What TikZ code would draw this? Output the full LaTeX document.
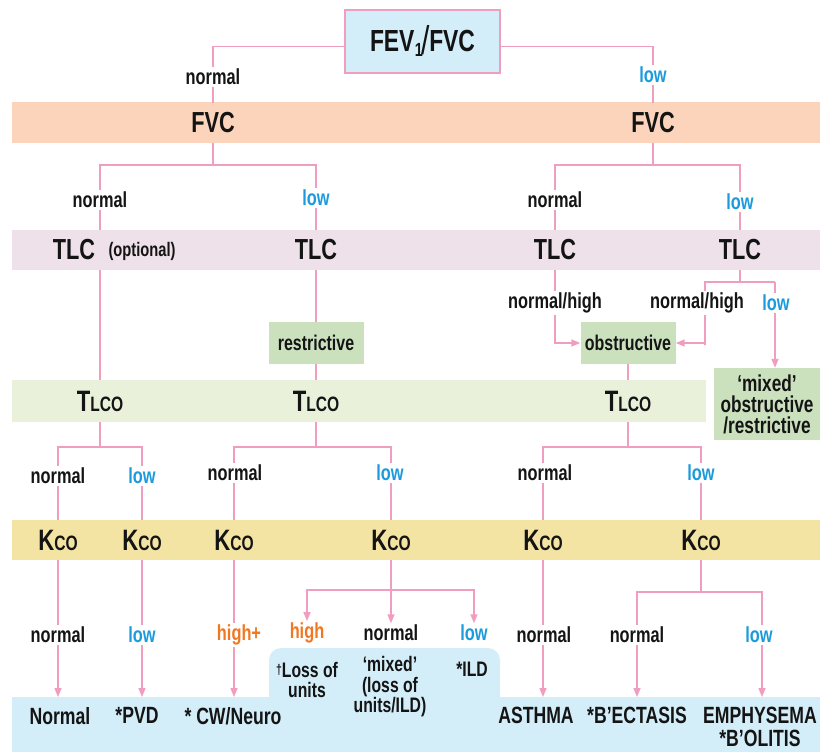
\documentclass[tikz,border=0pt]{standalone}
\usepackage{fontspec}
\setmainfont{Liberation Sans}[FakeStretch=0.75]
\usetikzlibrary{arrows.meta}
\definecolor{lnpink}{RGB}{240,158,192}
\definecolor{bxblue}{RGB}{212,238,249}
\definecolor{bdpeach}{RGB}{252,212,188}
\definecolor{bdmauve}{RGB}{238,225,233}
\definecolor{bxgreen}{RGB}{203,225,190}
\definecolor{bdgreen}{RGB}{233,241,218}
\definecolor{bdyellow}{RGB}{243,228,164}
\definecolor{txblue}{RGB}{28,155,220}
\definecolor{txorange}{RGB}{240,120,35}
\definecolor{txblack}{RGB}{20,20,20}
\newcommand\fHead{\fontsize{29}{30}\selectfont\bfseries}
\newcommand\fFev{\fontsize{30.5}{32}\selectfont\bfseries}
\newcommand\fLab{\fontsize{21.8}{23}\selectfont\bfseries}
\newcommand\fOpt{\fontsize{19.6}{21}\selectfont\bfseries}
\newcommand\fBox{\fontsize{21.3}{23}\selectfont\bfseries}
\newcommand\fMix{\fontsize{23}{21}\selectfont\bfseries}
\newcommand\fBot{\fontsize{23.5}{23}\selectfont\bfseries}
\newcommand\fTab{\fontsize{21}{20.5}\selectfont\bfseries}
\newcommand\tlcotxt{{\fontsize{29.5}{29}\selectfont T}{\fontsize{20.8}{21}\selectfont LCO}}
\newcommand\kcotxt{{\fontsize{29.5}{29}\selectfont K}{\fontsize{20.8}{21}\selectfont CO}}
\begin{document}
\begin{tikzpicture}[x=1pt,y=-1pt,
  conn/.style={draw=lnpink,line width=1.5pt},
  arr/.style={draw=lnpink,line width=1.5pt,-{Triangle[length=9pt,width=7pt]}},
  bandtxt/.style={inner sep=0pt,minimum height=40pt,text=txblack,font=\fHead},
  lab/.style={fill=white,inner sep=1.5pt,text=txblack,font=\fLab},
  lowlab/.style={lab,text=txblue},
  highlab/.style={lab,text=txorange},
  gbox/.style={fill=bxgreen,inner sep=0pt,minimum width=95pt,minimum height=42pt,text=txblack,font=\fBox},
  bot/.style={anchor=north,inner xsep=0pt,inner ysep=10pt,align=center,text=txblack,font=\fBot},
  tabtxt/.style={align=center,inner sep=0pt,text=txblack,font=\fTab}
]
\useasboundingbox (0,0) rectangle (820,752);
% bands
\fill[bdpeach] (12,102) rectangle (820,143);
\fill[bdmauve] (12,230) rectangle (820,270);
\fill[bdgreen] (12,380) rectangle (706,422);
\fill[bdyellow] (12,520) rectangle (820,560);
\fill[bxblue] (12,697) rectangle (820,752);
\fill[bxblue,rounded corners=12pt] (269,648) rectangle (500,720);

% top box
\node[fill=bxblue,draw=lnpink,line width=1.5pt,minimum width=155pt,minimum height=63pt,inner sep=0pt,text=txblack,font=\fFev]
  (fev) at (422.5,41.5) {FEV\kern0.5pt{\fontsize{19}{19}\selectfont\raisebox{-5pt}{1}}\kern-1pt{\fontsize{40}{40}\selectfont\mdseries\raisebox{-3pt}{/}}\kern-1pt FVC};

% FVC row
\node[bandtxt] (fvcL) at (213,123) {FVC};
\node[bandtxt] (fvcR) at (653,123) {FVC};

% TLC row
\node[bandtxt,minimum width=1pt] (tlcA) at (100,250) {};
\node[bandtxt] (tlcAt) at (74,250) {TLC};
\node[inner sep=0pt,text=txblack,font=\fOpt] (tlcOpt) at (142,251) {(optional)};
\node[bandtxt] (tlcB) at (316,250) {TLC};
\node[bandtxt] (tlcC) at (555,250) {TLC};
\node[bandtxt] (tlcD) at (740,250) {TLC};

% classification boxes
\node[gbox] (restr) at (316,343) {restrictive};
\node[gbox] (obstr) at (628,343) {obstructive};
\node[gbox,minimum width=106pt,minimum height=72pt,align=center,font=\fMix] (mixed) at (767,404) {‘mixed’\\obstructive\\/restrictive};

% TLCO row
\node[bandtxt,minimum height=42pt] (tlcoA) at (100,401) {\tlcotxt};
\node[bandtxt,minimum height=42pt] (tlcoB) at (316,401) {\tlcotxt};
\node[bandtxt,minimum height=42pt] (tlcoC) at (628,401) {\tlcotxt};

% KCO row
\node[bandtxt] (kA) at (58,540) {\kcotxt};
\node[bandtxt] (kB) at (142,540) {\kcotxt};
\node[bandtxt] (kC) at (234,540) {\kcotxt};
\node[bandtxt] (kD) at (391,540) {\kcotxt};
\node[bandtxt] (kE) at (543,540) {\kcotxt};
\node[bandtxt] (kF) at (701,540) {\kcotxt};

% bottom diagnoses
\node[bot] (bNormal) at (60,697) {Normal};
\node[bot] (bPVD) at (137,697) {*PVD};
\node[bot] (bCW) at (233,697) {* CW/Neuro};
\node[bot] (bAsthma) at (536,697) {ASTHMA};
\node[bot] (bBect) at (637,697) {*B’ECTASIS};
\node[bot] (bEmph) at (760,697) {EMPHYSEMA\\*B’OLITIS};
\node[tabtxt] (tLoss) at (307,680) {{\fontsize{14}{14}\selectfont\raisebox{3pt}{†}}Loss of\\units};
\node[tabtxt] (tMixed) at (390,687) {‘mixed’\\(loss of\\units/ILD)};
\node[tabtxt] (tILD) at (472,669) {*ILD};

% coordinates for splits
\coordinate (sL) at (213,165);
\coordinate (sR) at (653,165);
\coordinate (sT) at (740,282);
\coordinate (cTL) at (705,345);
\coordinate (cTR) at (775,282);
\coordinate (sA) at (100,447);
\coordinate (sB) at (316,447);
\coordinate (sC) at (628,447);
\coordinate (sD) at (391,590);
\coordinate (sF) at (701,592);

% tab labels (targets)
\node[highlab] (lHigh) at (307,633) {high};
\node[lab] (lNormT) at (391,633) {normal};
\node[lowlab] (lLowT) at (474,633) {low};

% connectors
\draw[conn] ([yshift=-5pt]fev.west) -| (fvcL.north);
\draw[conn] ([yshift=-5pt]fev.east) -| (fvcR.north);
\draw[conn] (fvcL.south) -- (sL);
\draw[conn] (tlcA.north) |- (sL) -| (tlcB.north);
\draw[conn] (fvcR.south) -- (sR);
\draw[conn] (tlcC.north) |- (sR) -| (tlcD.north);
\draw[conn] (tlcA.south) -- (tlcoA.north);
\draw[conn] (tlcB.south) -- (restr.north);
\draw[conn] (restr.south) -- (tlcoB.north);
\draw[arr] (tlcC.south) |- (obstr.west);
\draw[conn] (tlcD.south) -- (sT);
\draw[arr] (cTR) -| (cTL) |- (obstr.east);
\draw[arr] (cTR) -- (cTR |- mixed.north);
\draw[conn] (obstr.south) -- (tlcoC.north);
\draw[conn] (tlcoA.south) -- (sA);
\draw[conn] (kA.north) |- (sA) -| (kB.north);
\draw[conn] (tlcoB.south) -- (sB);
\draw[conn] (kC.north) |- (sB) -| (kD.north);
\draw[conn] (tlcoC.south) -- (sC);
\draw[conn] (kE.north) |- (sC) -| (kF.north);
\draw[arr] (kA.south) -- (kA.south |- bNormal.north);
\draw[arr] (kB.south) -- (kB.south |- bPVD.north);
\draw[arr] (kC.south) -- (kC.south |- bCW.north);
\draw[conn] (kD.south) -- (sD);
\draw[arr] (sD) -| (lHigh.north);
\draw[arr] (sD) -- (lNormT.north);
\draw[arr] (sD) -| (lLowT.north);
\draw[arr] (kE.south) -- (kE.south |- bAsthma.north);
\draw[conn] (kF.south) -- (sF);
\draw[arr] (sF) -| (bBect.north);
\draw[arr] (sF) -| ([xshift=2pt]bEmph.north);

% branch labels
\node[lab] (l1a) at (213,77) {normal};
\node[lowlab] (l1b) at (653,75) {low};
\node[lab] (l2a) at (100,200) {normal};
\node[lowlab] (l2b) at (316,198) {low};
\node[lab] (l2c) at (555,200) {normal};
\node[lowlab] (l2d) at (740,202) {low};
\node[lab] (l3a) at (555,303) {normal/high};
\node[lab] (l3b) at (697,303) {normal/high};
\node[lowlab] (l3c) at (776,303) {low};
\node[lab] (l4a) at (58,476) {normal};
\node[lowlab] (l4b) at (142,476) {low};
\node[lab] (l4c) at (235,473) {normal};
\node[lowlab] (l4d) at (390,473) {low};
\node[lab] (l4e) at (545,473) {normal};
\node[lowlab] (l4f) at (701,473) {low};
\node[lab] (l5a) at (58,635) {normal};
\node[lowlab] (l5b) at (142,635) {low};
\node[highlab] (l5c) at (239,635) {high+};
\node[lab] (l5d) at (544,635) {normal};
\node[lab] (l5e) at (637,635) {normal};
\node[lowlab] (l5f) at (759,635) {low};
\end{tikzpicture}
\end{document}
